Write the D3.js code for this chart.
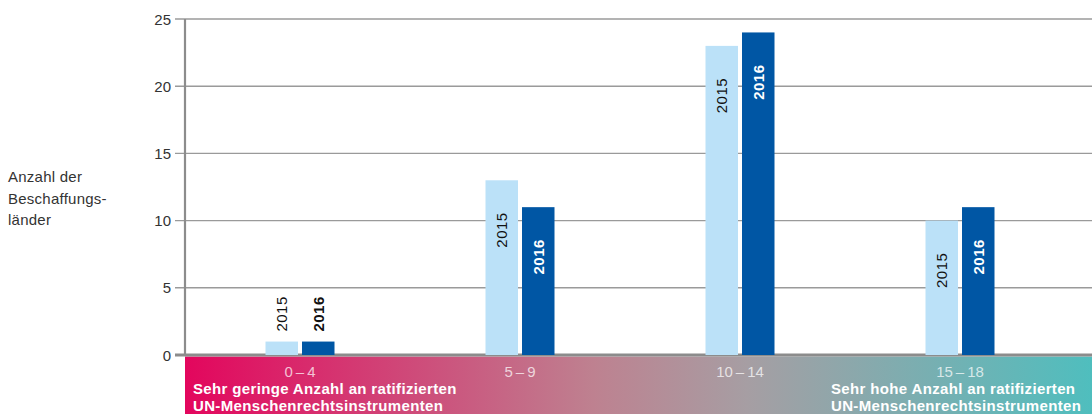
<!DOCTYPE html>
<html><head><meta charset="utf-8">
<script src="https://cdn.jsdelivr.net/npm/d3@7"></script>
<style>body{margin:0;background:#fff;}svg{display:block;font-family:"Liberation Sans",Arial,sans-serif;}</style>
</head><body>
<svg id="c" width="1092" height="414"></svg>
<script>
const categories = ["0\u2009–\u20094", "5\u2009–\u20099", "10\u2009–\u200914", "15\u2009–\u200918"];
const years = ["2015", "2016"];
const values2015 = [1, 13, 23, 10];
const values2016 = [1, 11, 24, 11];
const yTicks = [0, 5, 10, 15, 20, 25];
const yTitle = ["Anzahl der", "Beschaffungs-", "länder"];
const leftNote = ["Sehr geringe Anzahl an ratifizierten", "UN-Menschenrechtsinstrumenten"];
const rightNote = ["Sehr hohe Anzahl an ratifizierten", "UN-Menschenrechtsinstrumenten"];

const svg = d3.select("#c");
const axisX = 185, right = 1092, y0 = 355, yTop = 19;
const x = d3.scaleBand().domain(categories).range([190, 1070]);
const xi = d3.scaleBand().domain(years).range([0, 69]).paddingInner(0.11);
const y = d3.scaleLinear().domain([0, 25]).range([y0, yTop]);

// gradient band
const defs = svg.append("defs");
const g = defs.append("linearGradient").attr("id", "grad").attr("x1", 0).attr("x2", 1).attr("y1", 0).attr("y2", 0);
[[0, "#e3065d"], [0.45, "#be8190"], [0.62, "#a69ea3"], [1, "#4fbebe"]].forEach(([o, c]) =>
  g.append("stop").attr("offset", o).attr("stop-color", c));
svg.append("rect").attr("x", axisX).attr("y", y0 + 1.5).attr("width", right - axisX).attr("height", 414 - y0)
  .attr("fill", "url(#grad)");

// grid
svg.append("g").selectAll("line").data(yTicks.filter(d => d > 0)).join("line")
  .attr("x1", 175).attr("x2", right).attr("y1", d => y(d)).attr("y2", d => y(d))
  .attr("stroke", "#9a9a9a").attr("stroke-width", 1.4);
svg.append("line").attr("x1", 175).attr("x2", right).attr("y1", y0).attr("y2", y0)
  .attr("stroke", "#8c8c8c").attr("stroke-width", 3);
svg.append("line").attr("x1", axisX).attr("x2", axisX).attr("y1", yTop).attr("y2", y0)
  .attr("stroke", "#8c8c8c").attr("stroke-width", 2.2);
svg.append("g").selectAll("text").data(yTicks).join("text")
  .attr("x", 171).attr("y", d => y(d) + 5.5).attr("text-anchor", "end")
  .attr("font-size", 15).attr("fill", "#333").text(d => d);

// y title
svg.append("text").attr("font-size", 15).attr("letter-spacing", 0.25).attr("fill", "#333")
  .selectAll("tspan").data(yTitle).join("tspan")
  .attr("x", 8).attr("y", (d, i) => 182 + i * 21.5).text(d => d);

// bars
const data = categories.map((c, i) => ({c, vals: [values2015[i], values2016[i]]}));
const colors = ["#bbe1f8", "#0056a4"];
const grp = svg.append("g").selectAll("g").data(data).join("g")
  .attr("transform", d => `translate(${x(d.c) + x.bandwidth() / 2 - 34.5},0)`);
grp.selectAll("rect").data(d => d.vals.map((v, j) => ({v, yr: years[j], j}))).join("rect")
  .attr("x", d => xi(d.yr)).attr("width", xi.bandwidth())
  .attr("y", d => y(d.v)).attr("height", d => y0 - y(d.v)).attr("fill", d => colors[d.j]);
grp.selectAll("text").data(d => d.vals.map((v, j) => ({v, yr: years[j], j}))).join("text")
  .attr("transform", d => {
    const cx = xi(d.yr) + xi.bandwidth() / 2 + 5.5;
    const inside = d.v >= 3;
    const ty = inside ? y(d.v) + 32 : y(d.v) - 10;
    return `translate(${cx},${ty}) rotate(-90)`;
  })
  .attr("text-anchor", d => d.v >= 3 ? "end" : "start")
  .attr("font-size", 15).attr("letter-spacing", 0.5)
  .attr("font-weight", d => d.j === 1 ? "bold" : "normal")
  .attr("fill", d => d.j === 1 && d.v >= 3 ? "#fff" : "#111")
  .text(d => d.yr);

// category labels
svg.append("g").selectAll("text").data(categories).join("text")
  .attr("x", d => x(d) + x.bandwidth() / 2).attr("y", 377).attr("text-anchor", "middle")
  .attr("font-size", 15).attr("fill", "rgba(255,255,255,0.72)").text(d => d);

// notes
svg.append("text").attr("font-size", 15).attr("letter-spacing", 0.35).attr("font-weight", "bold").attr("fill", "#fff")
  .selectAll("tspan").data(leftNote).join("tspan")
  .attr("x", 193).attr("y", (d, i) => 393.5 + i * 17.5).text(d => d);
svg.append("text").attr("font-size", 15).attr("letter-spacing", 0.35).attr("font-weight", "bold").attr("fill", "#fff")
  .selectAll("tspan").data(rightNote).join("tspan")
  .attr("x", 831).attr("y", (d, i) => 393.5 + i * 17.5).text(d => d);
</script>
</body></html>
